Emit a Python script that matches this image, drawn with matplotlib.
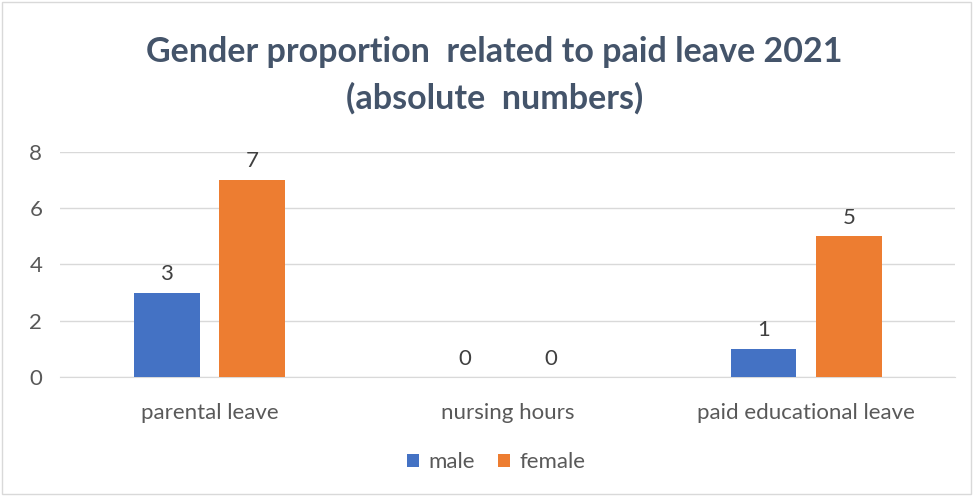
import numpy as np
import matplotlib.pyplot as plt

categories = ['parental leave', 'nursing hours', 'paid educational leave']
male = [3, 0, 1]
female = [7, 0, 5]
y_ticks = [0, 2, 4, 6, 8]

plt.rcParams['font.family'] = ['Lato', 'DejaVu Sans']

fig = plt.figure(figsize=(9.73, 4.96), dpi=100)
ax = fig.add_axes([0.062, 0.240, 0.920, 0.454])

x = np.arange(len(categories))
w = 0.22
off = 0.143
b1 = ax.bar(x - off, male, w, color='#4472C4', label='male', zorder=3)
b2 = ax.bar(x + off, female, w, color='#ED7D31', label='female', zorder=3)

for bars in (b1, b2):
    for r in bars:
        ax.text(r.get_x() + r.get_width() / 2, r.get_height() + 0.3,
                f'{int(r.get_height())}', ha='center', va='bottom',
                fontsize=16, color='#404040')

ax.set_xlim(-0.5, 2.5)
ax.set_ylim(0, 8)
ax.set_yticks(y_ticks)
ax.set_xticks(x)
ax.set_xticklabels(categories)
ax.tick_params(axis='both', length=0, labelsize=16, labelcolor='#595959')
ax.tick_params(axis='x', pad=19)
ax.tick_params(axis='y', pad=13)
ax.grid(axis='y', color='#D9D9D9', linewidth=1, zorder=0)
for s in ['top', 'right', 'left']:
    ax.spines[s].set_visible(False)
ax.spines['bottom'].set_color('#D9D9D9')

fig.text(0.508, 0.848, 'Gender proportion  related to paid leave 2021\n(absolute  numbers)',
         ha='center', va='center', fontsize=24.5, fontweight='bold', color='#44546A',
         linespacing=1.5)

fig.legend(loc='center', bbox_to_anchor=(0.51, 0.068), ncol=2, frameon=False,
           fontsize=16, handlelength=0.55, handleheight=0.55, columnspacing=1.0,
           handletextpad=0.45, labelcolor='#595959')

border = plt.Rectangle((0.002, 0.004), 0.996, 0.992, transform=fig.transFigure,
                       fill=False, edgecolor='#D9D9D9', linewidth=1)
fig.patches.append(border)

fig.savefig('out.png', dpi=100)
